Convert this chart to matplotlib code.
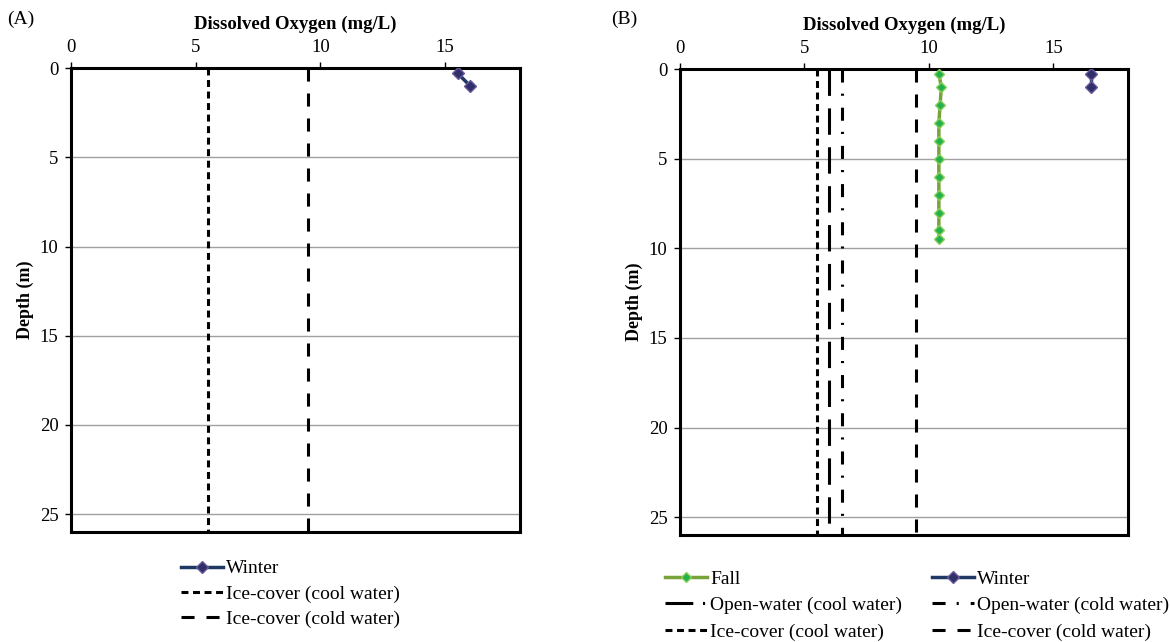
import numpy as np
import matplotlib
matplotlib.use('Agg')
import matplotlib.pyplot as plt
from matplotlib.lines import Line2D

plt.rcParams['font.family'] = ['Liberation Serif', 'DejaVu Serif']
plt.rcParams['lines.scale_dashes'] = False

# panel A data
winter_a_do = [15.5, 16.0]
winter_a_depth = [0.3, 1.0]

# panel B data
fall_do = [10.4, 10.5, 10.45, 10.4, 10.4, 10.4, 10.4, 10.4, 10.4, 10.4, 10.4]
fall_depth = [0.25, 1, 2, 3, 4, 5, 6, 7, 8, 9, 9.5]
winter_b_do = [16.5, 16.5]
winter_b_depth = [0.25, 1.0]

# criteria (mg/L)
ice_cool = 5.5
ice_cold = 9.5
open_cool = 6.0
open_cold = 6.5

depth_max = 26
xticks = [0, 5, 10, 15]
yticks = [0, 5, 10, 15, 20, 25]

winter_col = '#1F3864'
winter_mk = '#2F2F6A'
fall_col = '#77A33A'
fall_mk = '#22B14C'

# dash patterns in points
ls_ice_cool = (0, (5, 3.3))
ls_ice_cold = (0, (9.4, 8.6))
ls_open_cool = (0, (19, 9))
ls_open_cool_leg = (0, (20, 7, 1.5, 20))
ls_open_cold = (0, (9.4, 8, 1.5, 8.6))
lw = 2.2
fs = 13.5

def setup(ax):
    ax.set_xlim(0, 18)
    ax.set_ylim(depth_max, 0)
    ax.xaxis.tick_top()
    ax.xaxis.set_label_position('top')
    ax.set_xticks(xticks)
    ax.set_yticks(yticks)
    ax.tick_params(axis='both', labelsize=fs, direction='out', length=4, width=1, pad=5)
    ax.set_xlabel('Dissolved Oxygen (mg/L)', fontsize=fs, fontweight='bold', labelpad=7)
    ax.set_ylabel('Depth (m)', fontsize=13, fontweight='bold', labelpad=4)
    ax.grid(axis='y', color='#A0A0A0', linewidth=1)
    ax.set_axisbelow(True)
    for s in ax.spines.values():
        s.set_linewidth(2.2)

fig = plt.figure(figsize=(11.7, 6.42), dpi=100)

# panel A
ax1 = fig.add_axes([0.0607, 0.1713, 0.3838, 0.7227])
setup(ax1)
ax1.plot(winter_a_do, winter_a_depth, color=winter_col, lw=2.5, marker='D', ms=6,
         mfc=winter_mk, mec='#6A5A9A', label='Winter', zorder=4)
ax1.plot([ice_cool, ice_cool], [0, depth_max], color='black', lw=lw,
         linestyle=ls_ice_cool, label='Ice-cover (cool water)')
ax1.plot([ice_cold, ice_cold], [0, depth_max], color='black', lw=lw,
         linestyle=ls_ice_cold, label='Ice-cover (cold water)')
ax1.legend(loc='upper left', bbox_to_anchor=(0.245, -0.06), frameon=False,
           fontsize=14, handlelength=2.15, handletextpad=0.15, labelspacing=0.38,
           borderaxespad=0, borderpad=0)

# panel B
ax2 = fig.add_axes([0.5812, 0.1667, 0.3829, 0.7254])
setup(ax2)
h_fall, = ax2.plot(fall_do, fall_depth, color=fall_col, lw=2.5, marker='D', ms=5,
                   mfc=fall_mk, mec='#8CCF5A', label='Fall', zorder=4)
h_win, = ax2.plot(winter_b_do, winter_b_depth, color=winter_col, lw=2.5, marker='D', ms=6,
                  mfc=winter_mk, mec='#6A5A9A', label='Winter', zorder=4)
ax2.plot([open_cool, open_cool], [0, depth_max], color='black', lw=lw,
         linestyle=ls_open_cool)
h_od, = ax2.plot([open_cold, open_cold], [0, depth_max], color='black', lw=lw,
                 linestyle=ls_open_cold, label='Open-water (cold water)')
h_ic, = ax2.plot([ice_cool, ice_cool], [0, depth_max], color='black', lw=lw,
                 linestyle=ls_ice_cool, label='Ice-cover (cool water)')
h_id, = ax2.plot([ice_cold, ice_cold], [0, depth_max], color='black', lw=lw,
                 linestyle=ls_ice_cold, label='Ice-cover (cold water)')
h_oc = Line2D([], [], color='black', lw=lw, linestyle=ls_open_cool_leg,
              label='Open-water (cool water)')
ax2.legend(handles=[h_fall, h_oc, h_ic, h_win, h_od, h_id], ncol=2,
           loc='upper left', bbox_to_anchor=(-0.033, -0.075), frameon=False,
           fontsize=14, handlelength=2.15, handletextpad=0.15, labelspacing=0.47,
           columnspacing=1.55, borderaxespad=0, borderpad=0)

fig.text(0.006, 0.962, '(A)', fontsize=14)
fig.text(0.522, 0.962, '(B)', fontsize=14)

fig.savefig('out.png', dpi=100)
